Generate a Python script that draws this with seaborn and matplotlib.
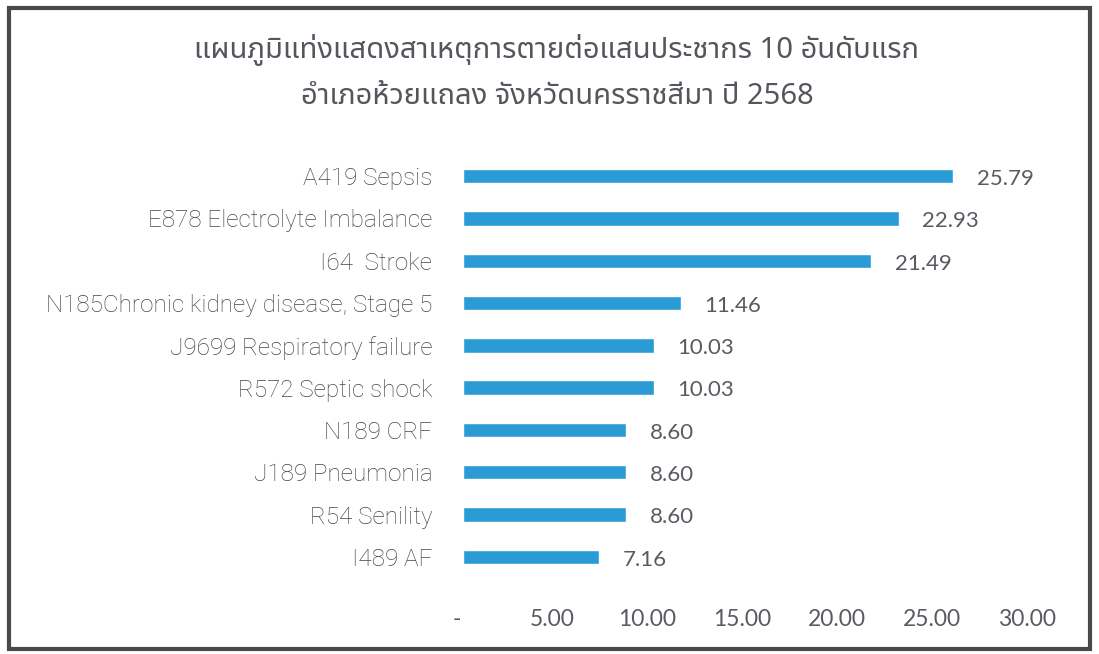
import matplotlib
matplotlib.use("Agg")
import matplotlib.pyplot as plt
import matplotlib.patches as mpatches
import matplotlib.transforms as mtransforms
from matplotlib import font_manager
import seaborn as sns
import pandas as pd

# ---------------- data ----------------
causes = [
    "A419 Sepsis",
    "E878 Electrolyte Imbalance",
    "I64  Stroke",
    "N185Chronic kidney disease, Stage 5",
    "J9699 Respiratory failure",
    "R572 Septic shock",
    "N189 CRF",
    "J189 Pneumonia",
    "R54 Senility",
    "I489 AF",
]
rates = [25.79, 22.93, 21.49, 11.46, 10.03, 10.03, 8.60, 8.60, 8.60, 7.16]
x_ticks = [0, 5, 10, 15, 20, 25, 30]
x_tick_labels = ["-", "5.00", "10.00", "15.00", "20.00", "25.00", "30.00"]
title_line1 = "แผนภูมิแท่งแสดงสาเหตุการตายต่อแสนประชากร 10 อันดับแรก"
title_line2 = "อำเภอห้วยแถลง จังหวัดนครราชสีมา ปี 2568"

# ---------------- fonts ----------------
def find_thai_family():
    try:
        from fontTools.ttLib import TTFont
    except Exception:
        return None
    prefs = []
    for f in font_manager.fontManager.ttflist:
        try:
            tt = TTFont(f.fname, fontNumber=0, lazy=True)
            cmap = tt.getBestCmap()
            if cmap and 0x0E41 in cmap and 0x0E2A in cmap:
                prefs.append(f.name)
        except Exception:
            continue
    if not prefs:
        return None
    for p in ["Noto Sans Thai", "Noto Sans Thai Looped", "Loma", "Garuda", "Sarabun"]:
        if p in prefs:
            return p
    return prefs[0]

thai_family = find_thai_family()
sns.set_theme(style="white")
title_fams = ([thai_family] if thai_family else []) + ["DejaVu Sans"]
plt.rcParams["font.family"] = ["Roboto", "DejaVu Sans"]

text_color = "#45454f"
num_color = "#5a5a62"
bar_color = "#2b9bd6"

df = pd.DataFrame({"cause": causes, "rate": rates})

fig = plt.figure(figsize=(10.99, 6.54), dpi=100)
fig.patch.set_facecolor("white")
ax = fig.add_axes([463 / 1099, 76 / 654, 570 / 1099, 423 / 654])

sns.barplot(data=df, x="rate", y="cause", orient="h", color=bar_color,
            saturation=1, width=0.34, ax=ax)

ax.set_xlim(0, 30)
ax.set_ylim(9.5, -0.5)
ax.set_xticks(x_ticks)
ax.set_xticklabels(x_tick_labels, fontfamily=["Lato", "DejaVu Sans"], fontsize=16.5,
                   color=num_color, fontweight="normal")
ax.tick_params(axis="x", length=0, pad=22)
ax.tick_params(axis="y", length=0, pad=22)
for lab in ax.get_yticklabels():
    lab.set_fontsize(17.5)
    lab.set_color(text_color)
    lab.set_fontweight("light")
for lab in ax.get_xticklabels():
    lab.set_transform(lab.get_transform() + mtransforms.ScaledTranslation(-6 / 100, 0, fig.dpi_scale_trans))
ax.set_xlabel("")
ax.set_ylabel("")
for s in ax.spines.values():
    s.set_visible(False)
ax.grid(False)

for i, v in enumerate(rates):
    ax.annotate(f"{v:.2f}", xy=(v, i), xytext=(17, -2), textcoords="offset points",
                ha="left", va="center", fontsize=16, color=num_color,
                fontfamily=["Lato", "DejaVu Sans"], fontweight="normal")

fig.text(557 / 1099, 1 - 50 / 654, title_line1, ha="center", va="center",
         fontsize=21, color="#55555d", family=title_fams, fontweight="normal")
fig.text(557 / 1099, 1 - 97 / 654, title_line2, ha="center", va="center",
         fontsize=21, color="#55555d", family=title_fams, fontweight="normal")

frame = mpatches.Rectangle((9 / 1099, 5 / 654), 1081 / 1099, 641 / 654,
                           transform=fig.transFigure, fill=False,
                           edgecolor="#4a4a4a", linewidth=3)
fig.add_artist(frame)

fig.savefig("out.png", dpi=100)
